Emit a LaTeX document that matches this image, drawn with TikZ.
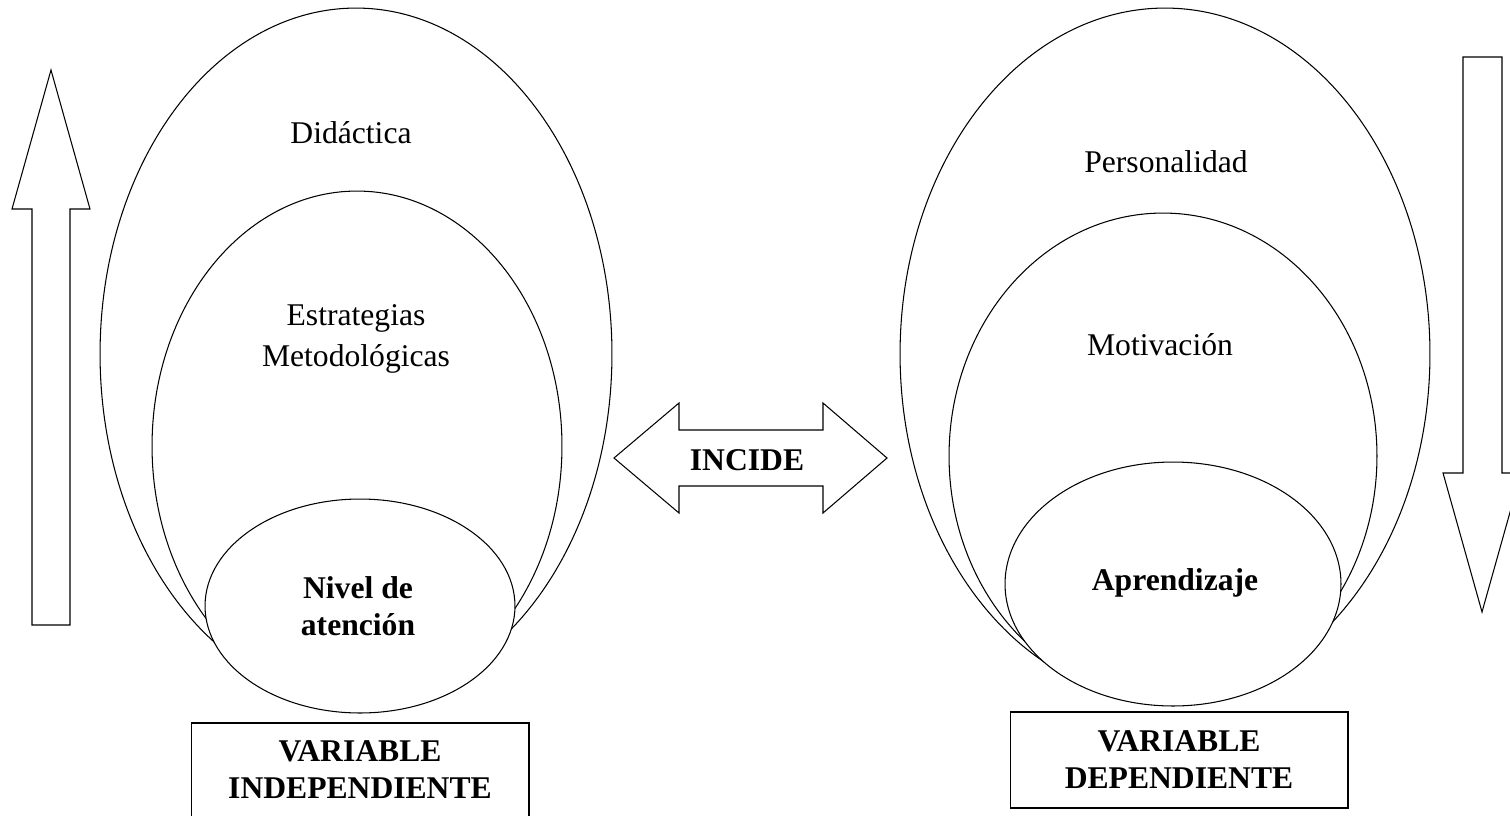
\documentclass[tikz,border=0pt]{standalone}
\usepackage{fontspec}
\setmainfont{Liberation Serif}
\usetikzlibrary{shapes.geometric}

\begin{document}
\begin{tikzpicture}[x = 0.02cm, y = -0.02cm, line width = 0.6pt,
    every node/.style = {font = \fontsize{18}{21}\selectfont},
    ring/.style = {ellipse, draw, fill = white, inner sep = 0pt},
    varbox/.style = {draw, align = center, inner sep = 0pt, minimum width = 6.76cm, font = \fontsize{18}{21}\selectfont\bfseries}]
    \useasboundingbox (0,0) rectangle (1510,815);

    \begin{scope}
    \node[ring, minimum width = 10.24cm, minimum height = 13.84cm](didacticaRing) at (356,354) {};
    \node[ring, minimum width = 8.2cm, minimum height = 10.2cm](estrategiasRing) at (357,446) {};
    \node[ring, minimum width = 6.2cm, minimum height = 4.28cm](atencionRing) at (360,606) {};

    \node[anchor = base](didactica) at (351,143) {Didáctica};
    \node[align = center, font = \fontsize{18}{23.2}\selectfont](estrategias) at (356,339) {Estrategias\\Metodológicas};
    \node[align = center, font = \fontsize{18}{21}\selectfont\bfseries](atencion) at (358,606) {Nivel de\\atención};

    \node[varbox, minimum height = 1.88cm](independiente) at (360,770) {VARIABLE\\INDEPENDIENTE};

    \draw (32,625) -- (32,209) -- (12,209) -- (51,70) -- (90,209) -- (70,209) -- (70,625) -- cycle;
    \end{scope}

    \begin{scope}
    \node[ring, minimum width = 10.6cm, minimum height = 13.84cm](personalidadRing) at (1165,354) {};
    \node[ring, minimum width = 8.56cm, minimum height = 9.72cm](motivacionRing) at (1163,456) {};
    \node[ring, minimum width = 6.72cm, minimum height = 4.88cm](aprendizajeRing) at (1173,584) {};

    \node[anchor = base](personalidad) at (1166,172) {Personalidad};
    \node[anchor = base](motivacion) at (1160,355) {Motivación};
    \node[anchor = base, font = \fontsize{18}{21}\selectfont\bfseries](aprendizaje) at (1175,590) {Aprendizaje};

    \node[varbox, minimum height = 1.92cm](dependiente) at (1179,760) {VARIABLE\\DEPENDIENTE};

    \draw (1463,57) -- (1502,57) -- (1502,473) -- (1521,473) -- (1482,612) -- (1443,473) -- (1463,473) -- cycle;
    \end{scope}

    \draw (614,458) -- (679,403) -- (679,430) -- (823,430) -- (823,403) -- (887,458) -- (823,513) -- (823,486) -- (679,486) -- (679,513) -- cycle;
    \node[anchor = base, font = \fontsize{18}{21}\selectfont\bfseries](incide) at (747,470) {INCIDE};
\end{tikzpicture}
\end{document}
